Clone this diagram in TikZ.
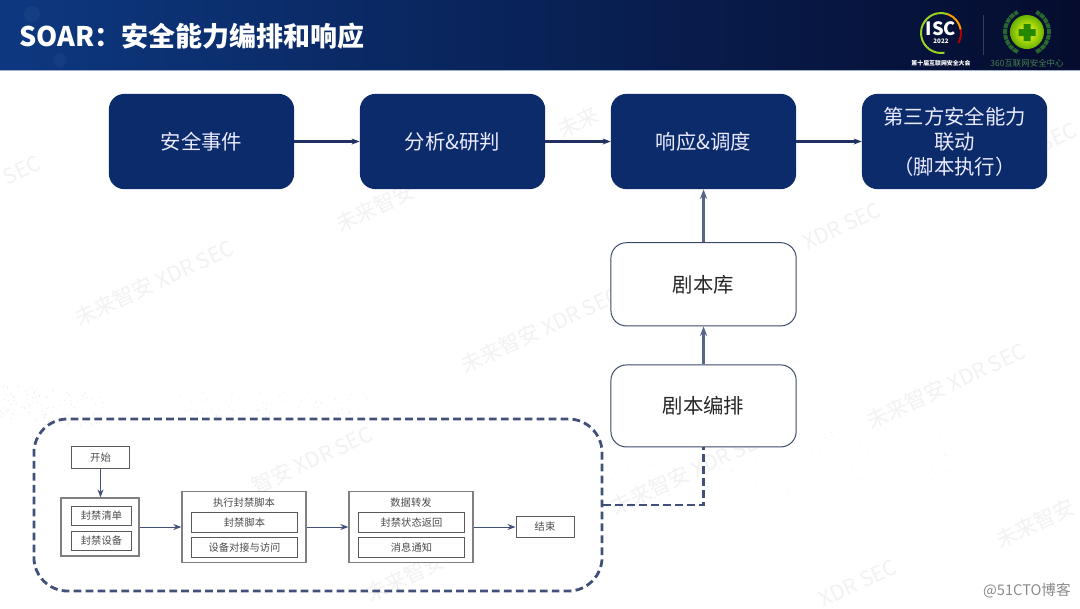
\documentclass[tikz,border=0pt]{standalone}
\usepackage{fontspec}
\setmainfont{Noto Sans CJK SC}
\usetikzlibrary{positioning,arrows.meta,calc,fit}
\definecolor{HeadNavy}{RGB}{5,12,46}
\definecolor{HeadBlue}{RGB}{13,56,128}
\definecolor{BoxNavy}{RGB}{11,43,107}
\definecolor{LineNavy}{RGB}{31,49,96}
\definecolor{SmallEdge}{RGB}{128,128,128}
\definecolor{WreathGreen}{RGB}{40,104,48}
\tikzset{
  flow/.style={-{Stealth[length=2mm]},line width=1.9pt,draw=LineNavy},
  upflow/.style={-{Stealth[length=2.4mm]},line width=2.1pt,draw=LineNavy!75},
  smallflow/.style={-{Stealth[length=2mm]},line width=0.7pt,draw=LineNavy!85},
  dashflow/.style={line width=2pt,dash pattern=on 5.5pt off 3pt,draw=LineNavy!85},
  navybox/.style={fill=BoxNavy,text=white!92!blue,rounded corners=11pt,minimum width=4.63cm,
    minimum height=2.38cm,align=center,font=\fontsize{14.5}{17.8}\selectfont,inner sep=0pt},
  whitebox/.style={draw=LineNavy!70!gray,line width=0.7pt,fill=white,rounded corners=11pt,
    minimum width=4.63cm,align=center,text=black!85,font=\fontsize{14.5}{18}\selectfont,inner sep=0pt},
  stepbox/.style={draw=SmallEdge!70!black,line width=0.7pt,fill=white,align=center,inner sep=0pt,
    text=black!70,font=\fontsize{7.3}{9}\selectfont},
  groupbox/.style={draw=SmallEdge,line width=0.9pt,fill=white,inner sep=0pt},
  faint text/.style={text=black!5,font=\fontsize{15}{17}\selectfont,rotate=25,inner sep=0pt}
}
\begin{document}
\begin{tikzpicture}[x=0.025cm,y=-0.025cm,node distance=1.63cm]
  \useasboundingbox (0,0) rectangle (1080,608);
  \fill[white] (0,0) rectangle (1080,608);

  % dots behind the diagram
  \pgfmathsetseed{7}
  \foreach \i in {1,...,90} {
    \pgfmathsetmacro\px{rnd*105}
    \pgfmathsetmacro\py{418-rnd*35+\px*0.12}
    \fill[black!8] (\px,\py) circle (0.7);
  }
  \foreach \i in {1,...,90} {
    \pgfmathsetmacro\px{180+rnd*190}
    \pgfmathsetmacro\py{392+rnd*27}
    \fill[black!7] (\px,\py) circle (0.6);
  }
  \foreach \i in {1,...,110} {
    \pgfmathsetmacro\px{610+rnd*350}
    \pgfmathsetmacro\py{440+rnd*70-\px*0.1+65}
    \fill[black!6] (\px,\py) circle (0.6);
  }

  % faint marks behind the diagram
  \foreach \px/\py/\mark in {154/283/未来智安 XDR SEC,540/330/未来智安 XDR SEC,842/226/XDR SEC,
    946/386/未来智安 XDR SEC,690/472/未来智安 XDR SEC,1035/523/未来智安,858/583/XDR SEC,
    375/207/未来智安,22/170/SEC,1058/137/SEC,578/122/未来,312/460/智安 XDR SEC,405/577/未来智安} {
    \node[faint text] at (\px,\py) {\mark};
  }

  % title band
  \shade[left color=HeadBlue,right color=HeadNavy,middle color=HeadBlue!50!HeadNavy]
    (0,0) rectangle (1080,70);
  \fill[HeadBlue!80!white,opacity=0.18] (32,14) circle (8) (60,60) circle (7) (85,40) circle (5);
  \draw[HeadBlue!40!white,line width=0.5pt] (0,70) -- (1080,70);
  \node[anchor=west,text=white,font=\fontsize{19.2}{21}\selectfont\bfseries,inner sep=0pt]
    (title) at (19,36) {SOAR：安全能力编排和响应};

  % logos
  \draw[yellow!60!green,line width=1.4pt] (941,33) ++(80:20) arc (80:290:20);
  \draw[orange!80!yellow,line width=1.4pt] (941,33) ++(290:20) arc (290:350:20);
  \draw[red!70!black,line width=1.4pt] (941,33) ++(350:20) arc (350:390:20);
  \node[text=white,font=\fontsize{13}{13}\selectfont\bfseries,inner sep=0pt] (isc) at (941,29) {ISC};
  \node[text=white,font=\fontsize{4.4}{4.4}\selectfont\bfseries,inner sep=0pt,below=0.05cm of isc] (year) {2022};
  \node[text=white,font=\fontsize{4.2}{5}\selectfont\bfseries,inner sep=0pt] (meet) at (941,63) {第十届互联网安全大会};
  \draw[white!20!HeadNavy,line width=0.4pt] (983,15) -- (983,55);
  \draw[WreathGreen,line width=2.8pt,dash pattern=on 3.5pt off 0.6pt] (1027,32) ++(115:22) arc (115:245:22);
  \draw[WreathGreen,line width=2.8pt,dash pattern=on 3.5pt off 0.6pt] (1027,32) ++(65:22) arc (65:-65:22);
  \shade[inner color=yellow!90!white,outer color=green!50!black!60!yellow] (1027,32) circle (17);
  \fill[green!45!black!85!yellow] (1023.5,24) rectangle (1030.5,41) (1018.5,29) rectangle (1035.5,36);
  \node[text=WreathGreen!85!white,font=\fontsize{6}{6}\selectfont,inner sep=0pt] (center) at (1027,63) {360互联网安全中心};

  % top row
  \node[navybox] (event) at (201.5,141.5) {安全事件};
  \node[navybox,right=of event] (judge) {分析\&研判};
  \node[navybox,right=of judge] (respond) {响应\&调度};
  \node[navybox,right=of respond] (third) {第三方安全能力\\联动\\（脚本执行）};
  \draw[flow] (event) -- (judge);
  \draw[flow] (judge) -- (respond);
  \draw[flow] (respond) -- (third);

  % playbooks
  \node[whitebox,minimum height=2.08cm,below=1.32cm of respond] (library) {剧本库};
  \node[whitebox,minimum height=2.05cm,below=0.95cm of library] (compose) {剧本编排};
  \draw[upflow] (library) -- (respond);
  \draw[upflow] (compose) -- (library);

  % dashed frame
  \node[draw=LineNavy!85,line width=2pt,dash pattern=on 5.5pt off 3pt,rounded corners=24pt,
    minimum width=14.2cm,minimum height=4.3cm,inner sep=0pt] (frame) at (318,505) {};
  \draw[dashflow] (frame.east) -| (compose.south);

  % flow inside the frame
  \node[stepbox,minimum width=1.43cm,minimum height=0.53cm] (start) at (100.5,457.5) {开始};

  \node[groupbox,minimum width=1.95cm,minimum height=1.45cm] (list) at (100,527) {};
  \node[stepbox,minimum width=1.52cm,minimum height=0.46cm] (block) at (101.5,516) {封禁清单};
  \node[stepbox,minimum width=1.52cm,minimum height=0.46cm,below=0.14cm of block] (device) {封禁设备};

  \node[groupbox,minimum width=3.1cm,minimum height=1.78cm] (run) at (244,527) {};
  \node[stepbox,draw=none,fill=none,below=0.17cm of run.north] (runtitle) {执行封禁脚本};
  \node[stepbox,minimum width=2.67cm,minimum height=0.48cm] (script) at (244.5,522.5) {封禁脚本};
  \node[stepbox,minimum width=2.67cm,minimum height=0.48cm,below=0.12cm of script] (access) {设备对接与访问};

  \node[groupbox,minimum width=3.1cm,minimum height=1.78cm] (forward) at (411,527) {};
  \node[stepbox,draw=none,fill=none,below=0.17cm of forward.north] (fwdtitle) {数据转发};
  \node[stepbox,minimum width=2.67cm,minimum height=0.48cm] (status) at (411.5,522.5) {封禁状态返回};
  \node[stepbox,minimum width=2.67cm,minimum height=0.48cm,below=0.12cm of status] (notify) {消息通知};

  \node[stepbox,minimum width=1.45cm,minimum height=0.53cm] (finish) at (545,527) {结束};

  \draw[smallflow] (start) -- (start|-list.north);
  \draw[smallflow] (list) -- (run);
  \draw[smallflow] (run) -- (forward);
  \draw[smallflow] (forward) -- (finish);

  \node[text=black!45,font=\fontsize{10.4}{12}\selectfont,anchor=east,inner sep=0pt] (source) at (1071,591) {@51CTO博客};
\end{tikzpicture}
\end{document}
